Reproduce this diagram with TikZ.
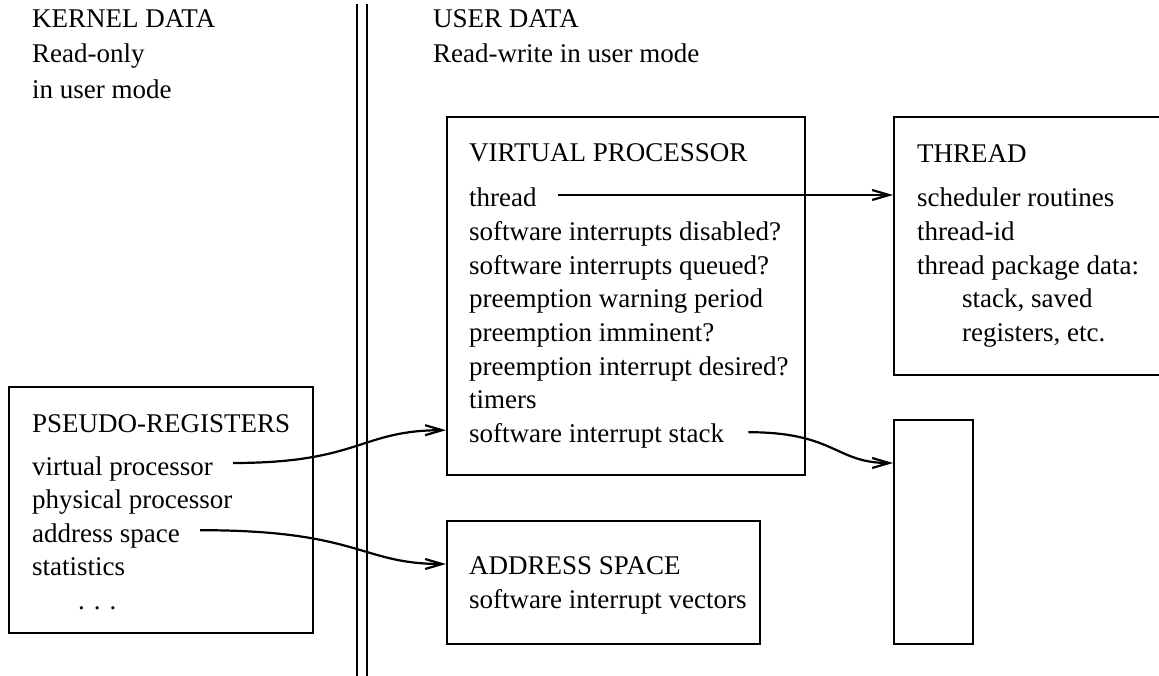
\documentclass[tikz,border=0pt]{standalone}
\usepackage{fontspec}
\setmainfont{Liberation Serif}
\usetikzlibrary{arrows.meta}
\begin{document}
\begin{tikzpicture}[x=1pt,y=-1pt,
  txt/.style={anchor=base west, inner sep=0pt, font=\fontsize{27pt}{33.6pt}\selectfont},
  box/.style={draw, line width=2.2pt, anchor=north west, inner sep=0pt},
  wire/.style={line width=2.2pt, -{Straight Barb[length=17pt,width=10pt]}},
  divider/.style={line width=2.2pt}]
\clip (0,0) rectangle (1159,676);

% dividers
\draw[divider] (357,4) -- (357,676);
\draw[divider] (367,4) -- (367,676);

% boxes
\node[box, minimum width=304pt, minimum height=246pt] (prbox) at (8,386) {};
\node[box, minimum width=358pt, minimum height=358pt] (vpbox) at (446,116) {};
\node[box, minimum width=290pt, minimum height=258pt] (tbox) at (893,116) {};
\node[box, minimum width=79pt, minimum height=224pt] (sbox) at (893,419) {};
\node[box, minimum width=313pt, minimum height=123pt] (asbox) at (446,520) {};

% headings
\node[txt] (kd) at (32,28) {KERNEL DATA};
\node[txt] (ro1) at (32,63) {Read-only};
\node[txt] (ro2) at (32,99) {in user mode};
\node[txt] (ud) at (433,28) {USER DATA};
\node[txt] (rw) at (433,63) {Read-write in user mode};

% virtual processor
\node[txt] (vphead) at (469,162) {VIRTUAL PROCESSOR};
\node[txt] (vthread) at (469,207) {thread};
\node[txt] (vdis) at (469,240.6) {software interrupts disabled?};
\node[txt] (vque) at (469,274.2) {software interrupts queued?};
\node[txt] (vwarn) at (469,307.8) {preemption warning period};
\node[txt] (vimm) at (469,341.4) {preemption imminent?};
\node[txt] (vdes) at (469,375) {preemption interrupt desired?};
\node[txt] (vtim) at (469,408.6) {timers};
\node[txt] (vstack) at (469,442.2) {software interrupt stack};

% thread
\node[txt] (thead) at (917,163) {THREAD};
\node[txt] (tsch) at (917,207) {scheduler routines};
\node[txt] (tid) at (917,240.6) {thread-id};
\node[txt] (tpkg) at (917,274.2) {thread package data:};
\node[txt] (tstk) at (962,307.8) {stack, saved};
\node[txt] (treg) at (962,341.4) {registers, etc.};

% pseudo-registers
\node[txt] (prhead) at (32,432) {PSEUDO-REGISTERS};
\node[txt] (pvp) at (32,475) {virtual processor};
\node[txt] (ppp) at (32,508.6) {physical processor};
\node[txt] (pas) at (32,542.2) {address space};
\node[txt] (pst) at (32,575.8) {statistics};
\node[txt] (pdots) at (78,609.4) {. . .};

% address space
\node[txt] (ashead) at (469,574) {ADDRESS SPACE};
\node[txt] (asvec) at (469,608) {software interrupt vectors};

% connectors
\coordinate (s1) at ([xshift=21pt,yshift=12pt]vthread.base east);
\draw[wire] (s1) -- (tbox.west |- s1);

\coordinate (s2) at ([xshift=24pt,yshift=10pt]vstack.base east);
\coordinate (e2) at ([yshift=-44pt]sbox.north west);
\draw[wire] (s2) .. controls +(87,0) and +(-58,0) .. (e2);

\coordinate (s3) at ([xshift=20pt,yshift=12pt]pvp.base east);
\coordinate (e3) at ([yshift=12pt]vstack.base);
\draw[wire] (s3) .. controls +(127,0) and +(-86,0) .. (vpbox.west |- e3);

\coordinate (s4) at ([xshift=20pt,yshift=12pt]pas.base east);
\coordinate (e4) at ([yshift=10pt]ashead.base);
\draw[wire] (s4) .. controls +(160,0) and +(-86,0) .. (asbox.west |- e4);
\end{tikzpicture}
\end{document}
